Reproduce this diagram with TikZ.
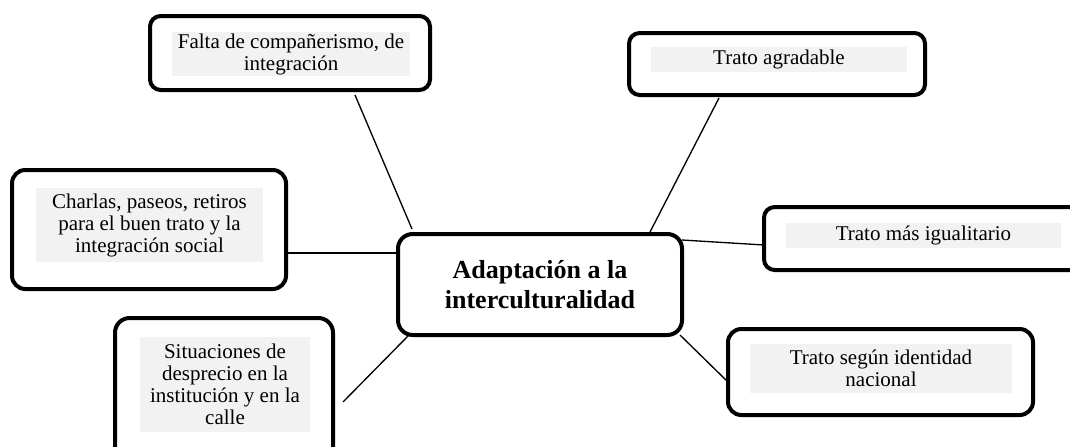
\documentclass[tikz,border=0pt]{standalone}
\usepackage{fontspec}
\setmainfont{Liberation Serif}
\usetikzlibrary{calc}
\definecolor{shade}{HTML}{F2F2F2}
\tikzset{
  box/.style={draw=black, line width=3pt, rounded corners=8pt, inner sep=0pt, outer sep=0pt},
  shadebox/.style={fill=shade, inner sep=0pt, align=center,
    font=\fontsize{15.75pt}{16.5pt}\selectfont},
  link/.style={draw=black, line width=1pt}
}
\begin{document}
\begin{tikzpicture}[x=0.75pt, y=-0.75pt]
\clip (0,0) rectangle (1070,446);
\fill[white] (0,0) rectangle (1070,446);
% outer boxes
\node[box, minimum width=210pt, minimum height=55.5pt] (b1) at (290,53) {};
\node[box, minimum width=222pt, minimum height=46.5pt] (b2) at (777,64) {};
\node[box, minimum width=205.5pt, minimum height=89.25pt, rounded corners=10pt] (b3) at (149,229.5) {};
\node[box, minimum width=213pt, minimum height=75.75pt, rounded corners=11pt, align=center,
  font=\bfseries\fontsize{19.5pt}{23pt}\selectfont] (c) at (540,284.5) {Adaptación a la\\interculturalidad};
\node[box, minimum width=163.5pt, minimum height=112.5pt, rounded corners=11pt] (b5) at (224,393) {};
\node[box, minimum width=243pt, minimum height=47.25pt] (b6) at (926,238.5) {};
\node[box, minimum width=228.75pt, minimum height=64.5pt, rounded corners=10pt] (b7) at (880.5,372) {};
% shaded text
\begin{scope}
\clip (172,32) rectangle (410,76);
\node[shadebox, minimum width=178.5pt, minimum height=33pt] (g1) at (291,54) {Falta de compañerismo, de\\integración};
\end{scope}
\node[shadebox, minimum width=192pt, minimum height=18.75pt] (g2) at (779,59.5) {Trato agradable};
\node[shadebox, minimum width=170.25pt, minimum height=55.5pt] (g3) at (149.5,225) {Charlas, paseos, retiros\\para el buen trato y la\\integración social};
\node[shadebox, minimum width=127.5pt, minimum height=71.25pt] (g5) at (225,384.5) {Situaciones de\\desprecio en la\\institución y en la\\calle};
\node[shadebox, minimum width=206.25pt, minimum height=18.75pt] (g6) at (923.5,235.5) {Trato más igualitario};
\node[shadebox, minimum width=196.5pt, minimum height=36.75pt] (g7) at (881,368.5) {Trato según identidad\\nacional};
% connectors
\draw[link] ($(b1.south)+(65,5)$) -- ($(c.north west)+(14,-5)$);
\draw[link] ($(b2.south)+(-58,3)$) -- ($(c.north)+(110,-2)$);
\draw[link] ($(b3.east)+(0,23.5)$) -- ($(c.west)+(0,-31.5)$);
\draw[link] ($(c.east)+(0,-44.5)$) -- ($(b6.west)+(0,6.5)$);
\draw[link] ($(c.south west)+(11,0)$) -- ($(b5.east)+(10,9)$);
\draw[link] ($(c.south east)+(-2,0)$) -- ($(b7.west)+(0,10)$);
\end{tikzpicture}
\end{document}
